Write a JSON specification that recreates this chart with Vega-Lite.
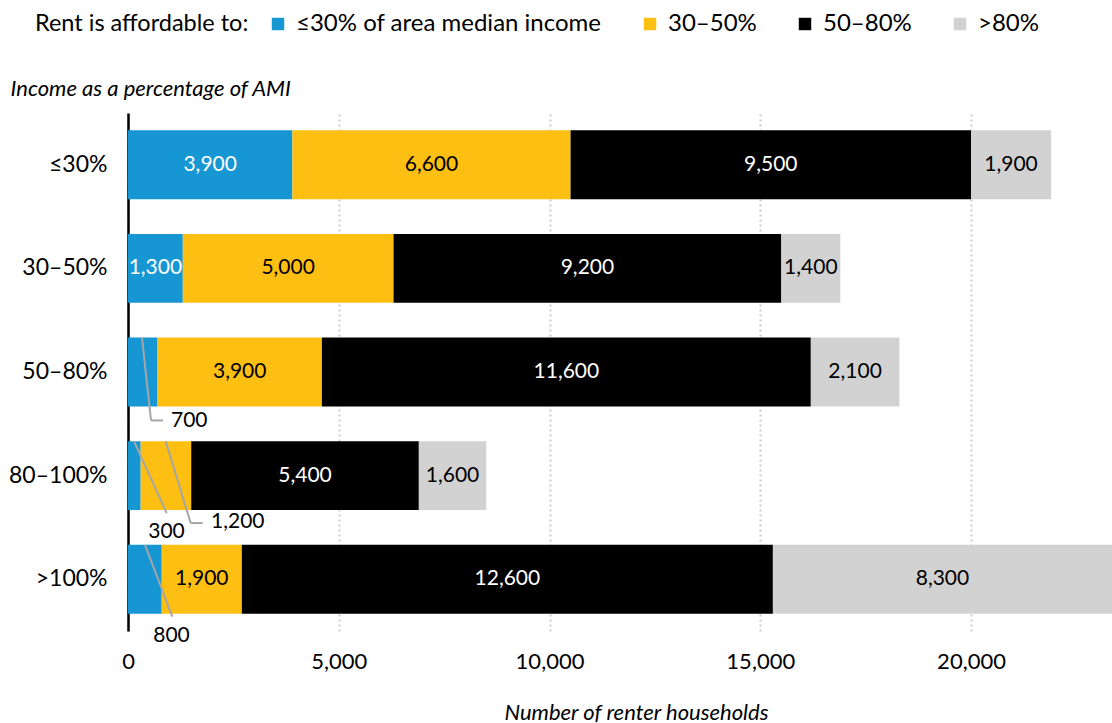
{
  "$schema": "https://vega.github.io/schema/vega-lite/v6.json",
  "autosize": {"type": "none"},
  "width": 984,
  "height": 518,
  "padding": {"left": 128, "top": 113, "right": 0, "bottom": 92},
  "background": "white",
  "config": {
    "font": "Lato",
    "view": {"stroke": null},
    "axis": {"labelColor": "#000000", "titleColor": "#000000", "labelFont": "Lato", "titleFont": "Lato"}
  },
  "data": {"values": [
    {"income": "≤30%", "afford": "≤30% of area median income", "value": 3900},
    {"income": "≤30%", "afford": "30–50%", "value": 6600},
    {"income": "≤30%", "afford": "50–80%", "value": 9500},
    {"income": "≤30%", "afford": ">80%", "value": 1900},
    {"income": "30–50%", "afford": "≤30% of area median income", "value": 1300},
    {"income": "30–50%", "afford": "30–50%", "value": 5000},
    {"income": "30–50%", "afford": "50–80%", "value": 9200},
    {"income": "30–50%", "afford": ">80%", "value": 1400},
    {"income": "50–80%", "afford": "≤30% of area median income", "value": 700},
    {"income": "50–80%", "afford": "30–50%", "value": 3900},
    {"income": "50–80%", "afford": "50–80%", "value": 11600},
    {"income": "50–80%", "afford": ">80%", "value": 2100},
    {"income": "80–100%", "afford": "≤30% of area median income", "value": 300},
    {"income": "80–100%", "afford": "30–50%", "value": 1200},
    {"income": "80–100%", "afford": "50–80%", "value": 5400},
    {"income": "80–100%", "afford": ">80%", "value": 1600},
    {"income": ">100%", "afford": "≤30% of area median income", "value": 800},
    {"income": ">100%", "afford": "30–50%", "value": 1900},
    {"income": ">100%", "afford": "50–80%", "value": 12600},
    {"income": ">100%", "afford": ">80%", "value": 8300}
  ]},
  "layer": [
    {
      "transform": [
        {"calculate": "indexof(['≤30% of area median income','30–50%','50–80%','>80%'], datum.afford)", "as": "ord"},
        {"stack": "value", "groupby": ["income"], "sort": [{"field": "ord", "order": "ascending"}], "as": ["x0", "x1"]}
      ],
      "mark": {"type": "bar", "clip": true},
      "encoding": {
        "y": {"field": "income", "type": "nominal", "title": "Income as a percentage of AMI",
          "scale": {"domain": ["≤30%", "30–50%", "50–80%", "80–100%", ">100%"], "paddingInner": 0.335, "paddingOuter": 0.1675},
          "axis": {"domain": true, "domainColor": "#000000", "domainWidth": 2.5, "ticks": false, "labelFontSize": 23, "labelPadding": 21,
            "titleAngle": 0, "titleX": -118, "titleY": -25, "titleAlign": "left", "titleBaseline": "middle", "titleFontSize": 22, "titleFontStyle": "italic", "titleFontWeight": "normal"}},
        "x": {"field": "x0", "type": "quantitative", "title": "Number of renter households",
          "scale": {"domain": [0, 23345], "nice": false},
          "axis": {"values": [0, 5000, 10000, 15000, 20000], "format": ",.0f", "domain": false, "ticks": false, "grid": true, "gridColor": "#cccccc", "gridDash": [2, 3], "gridWidth": 2,
            "labelFontSize": 22, "labelPadding": 20, "labelFlush": false,
            "titleFontSize": 22, "titleFontStyle": "italic", "titleFontWeight": "normal", "titleX": 508, "titleY": 81, "titleBaseline": "middle"}},
        "x2": {"field": "x1"},
        "color": {"field": "afford", "type": "nominal",
          "scale": {"domain": ["≤30% of area median income", "30–50%", "50–80%", ">80%"], "range": ["#1696d2", "#fdbf11", "#000000", "#d2d2d2"]},
          "legend": {"orient": "none", "legendX": -93, "legendY": -101, "direction": "horizontal", "columns": 4,
            "title": "Rent is affordable to:", "titleOrient": "left", "titleFontSize": 23.5, "titleFontWeight": "normal", "titleColor": "#000000", "titlePadding": 17, "titleBaseline": "middle", "titleLimit": 500,
            "symbolType": "square", "symbolSize": 155, "symbolStrokeWidth": 0, "symbolOpacity": 1,
            "labelFontSize": 24, "labelColor": "#000000", "labelOffset": 6, "labelLimit": 600, "columnPadding": 36}}
      }
    },
    {
      "transform": [
        {"calculate": "indexof(['≤30% of area median income','30–50%','50–80%','>80%'], datum.afford)", "as": "ord"},
        {"stack": "value", "groupby": ["income"], "sort": [{"field": "ord", "order": "ascending"}], "as": ["x0", "x1"]},
        {"calculate": "(datum.x0 + min(datum.x1, 23345)) / 2", "as": "mid"},
        {"filter": "datum.value >= 1300"}
      ],
      "mark": {"type": "text", "fontSize": 21, "align": "center", "baseline": "middle"},
      "encoding": {
        "y": {"field": "income", "type": "nominal", "title": "Income as a percentage of AMI", "scale": {"domain": ["≤30%", "30–50%", "50–80%", "80–100%", ">100%"]}},
        "x": {"field": "mid", "type": "quantitative", "title": "Number of renter households"},
        "text": {"field": "value", "type": "quantitative", "format": ","},
        "color": {"condition": {"test": "datum.ord === 0 || datum.ord === 2", "value": "#ffffff"}, "value": "#000000"}
      }
    },
    {
      "data": {"values": [{"income": "50–80%", "xa": 332, "xb": 546}]},
      "mark": {"type": "rule", "color": "#a6a6a6", "strokeWidth": 2, "y2Offset": 14},
      "encoding": {
        "y": {"field": "income", "type": "nominal", "bandPosition": 0, "title": "Income as a percentage of AMI", "scale": {"domain": ["≤30%", "30–50%", "50–80%", "80–100%", ">100%"]}},
        "y2": {"field": "income", "bandPosition": 1},
        "x": {"field": "xa", "type": "quantitative", "title": "Number of renter households"},
        "x2": {"field": "xb"}
      }
    },
    {
      "data": {"values": [{"income": "50–80%", "xa": 546, "xb": 830}]},
      "mark": {"type": "rule", "color": "#a6a6a6", "strokeWidth": 2, "yOffset": 14},
      "encoding": {
        "y": {"field": "income", "type": "nominal", "bandPosition": 1, "title": "Income as a percentage of AMI", "scale": {"domain": ["≤30%", "30–50%", "50–80%", "80–100%", ">100%"]}},
        "x": {"field": "xa", "type": "quantitative", "title": "Number of renter households"},
        "x2": {"field": "xb"}
      }
    },
    {
      "data": {"values": [{"income": "50–80%", "xl": 1020, "label": "700"}]},
      "mark": {"type": "text", "fontSize": 21, "align": "left", "baseline": "middle", "dy": 15, "color": "#000000"},
      "encoding": {
        "y": {"field": "income", "type": "nominal", "bandPosition": 1, "title": "Income as a percentage of AMI", "scale": {"domain": ["≤30%", "30–50%", "50–80%", "80–100%", ">100%"]}},
        "x": {"field": "xl", "type": "quantitative", "title": "Number of renter households"},
        "text": {"field": "label"}
      }
    },
    {
      "data": {"values": [{"income": "80–100%", "xa": 142, "xb": 918}]},
      "mark": {"type": "rule", "color": "#a6a6a6", "strokeWidth": 2, "y2Offset": 3},
      "encoding": {
        "y": {"field": "income", "type": "nominal", "bandPosition": 0, "title": "Income as a percentage of AMI", "scale": {"domain": ["≤30%", "30–50%", "50–80%", "80–100%", ">100%"]}},
        "y2": {"field": "income", "bandPosition": 1},
        "x": {"field": "xa", "type": "quantitative", "title": "Number of renter households"},
        "x2": {"field": "xb"}
      }
    },
    {
      "data": {"values": [{"income": "80–100%", "xl": 913, "label": "300"}]},
      "mark": {"type": "text", "fontSize": 21, "align": "center", "baseline": "middle", "dy": 22, "color": "#000000"},
      "encoding": {
        "y": {"field": "income", "type": "nominal", "bandPosition": 1, "title": "Income as a percentage of AMI", "scale": {"domain": ["≤30%", "30–50%", "50–80%", "80–100%", ">100%"]}},
        "x": {"field": "xl", "type": "quantitative", "title": "Number of renter households"},
        "text": {"field": "label"}
      }
    },
    {
      "data": {"values": [{"income": "80–100%", "xa": 894, "xb": 1487}]},
      "mark": {"type": "rule", "color": "#a6a6a6", "strokeWidth": 2, "y2Offset": 13},
      "encoding": {
        "y": {"field": "income", "type": "nominal", "bandPosition": 0, "title": "Income as a percentage of AMI", "scale": {"domain": ["≤30%", "30–50%", "50–80%", "80–100%", ">100%"]}},
        "y2": {"field": "income", "bandPosition": 1},
        "x": {"field": "xa", "type": "quantitative", "title": "Number of renter households"},
        "x2": {"field": "xb"}
      }
    },
    {
      "data": {"values": [{"income": "80–100%", "xa": 1487, "xb": 1772}]},
      "mark": {"type": "rule", "color": "#a6a6a6", "strokeWidth": 2, "yOffset": 13},
      "encoding": {
        "y": {"field": "income", "type": "nominal", "bandPosition": 1, "title": "Income as a percentage of AMI", "scale": {"domain": ["≤30%", "30–50%", "50–80%", "80–100%", ">100%"]}},
        "x": {"field": "xa", "type": "quantitative", "title": "Number of renter households"},
        "x2": {"field": "xb"}
      }
    },
    {
      "data": {"values": [{"income": "80–100%", "xl": 1970, "label": "1,200"}]},
      "mark": {"type": "text", "fontSize": 21, "align": "left", "baseline": "middle", "dy": 12, "color": "#000000"},
      "encoding": {
        "y": {"field": "income", "type": "nominal", "bandPosition": 1, "title": "Income as a percentage of AMI", "scale": {"domain": ["≤30%", "30–50%", "50–80%", "80–100%", ">100%"]}},
        "x": {"field": "xl", "type": "quantitative", "title": "Number of renter households"},
        "text": {"field": "label"}
      }
    },
    {
      "data": {"values": [{"income": ">100%", "xa": 403, "xb": 1051}]},
      "mark": {"type": "rule", "color": "#a6a6a6", "strokeWidth": 2, "y2Offset": 3},
      "encoding": {
        "y": {"field": "income", "type": "nominal", "bandPosition": 0, "title": "Income as a percentage of AMI", "scale": {"domain": ["≤30%", "30–50%", "50–80%", "80–100%", ">100%"]}},
        "y2": {"field": "income", "bandPosition": 1},
        "x": {"field": "xa", "type": "quantitative", "title": "Number of renter households"},
        "x2": {"field": "xb"}
      }
    },
    {
      "data": {"values": [{"income": ">100%", "xl": 1032, "label": "800"}]},
      "mark": {"type": "text", "fontSize": 21, "align": "center", "baseline": "middle", "dy": 22, "color": "#000000"},
      "encoding": {
        "y": {"field": "income", "type": "nominal", "bandPosition": 1, "title": "Income as a percentage of AMI", "scale": {"domain": ["≤30%", "30–50%", "50–80%", "80–100%", ">100%"]}},
        "x": {"field": "xl", "type": "quantitative", "title": "Number of renter households"},
        "text": {"field": "label"}
      }
    }
  ]
}
